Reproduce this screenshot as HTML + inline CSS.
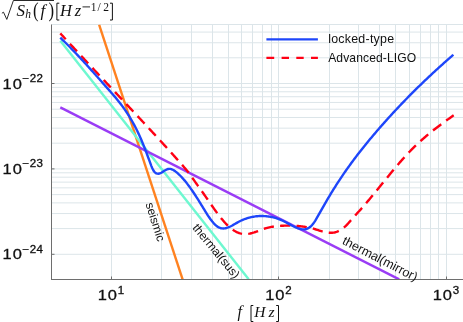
<!DOCTYPE html><html><head><meta charset="utf-8"><style>html,body{margin:0;padding:0;background:#fff;width:463px;height:322px;overflow:hidden}svg{display:block;will-change:transform}text{font-family:"Liberation Sans",sans-serif;fill:#111}.m{font-family:"Liberation Serif",serif;font-style:italic}.r{font-family:"Liberation Serif",serif;font-style:normal}</style></head><body>
<svg width="463" height="322" viewBox="0 0 463 322">
<rect width="463" height="322" fill="#fff"/>
<defs><clipPath id="c"><rect x="51.5" y="24.5" width="411.5" height="255.0"/></clipPath></defs>
<path d="M111.5,24.5V279.5M161.5,24.5V279.5M191.5,24.5V279.5M212.5,24.5V279.5M228.5,24.5V279.5M241.5,24.5V279.5M252.5,24.5V279.5M262.5,24.5V279.5M271.5,24.5V279.5M278.5,24.5V279.5M329.5,24.5V279.5M358.5,24.5V279.5M379.5,24.5V279.5M395.5,24.5V279.5M409.5,24.5V279.5M420.5,24.5V279.5M430.5,24.5V279.5M438.5,24.5V279.5M446.5,24.5V279.5M51.5,254.30H463.0M51.5,228.59H463.0M51.5,213.55H463.0M51.5,202.88H463.0M51.5,194.61H463.0M51.5,187.85H463.0M51.5,182.13H463.0M51.5,177.18H463.0M51.5,172.81H463.0M51.5,168.90H463.0M51.5,143.19H463.0M51.5,128.15H463.0M51.5,117.48H463.0M51.5,109.21H463.0M51.5,102.45H463.0M51.5,96.73H463.0M51.5,91.78H463.0M51.5,87.41H463.0M51.5,83.50H463.0M51.5,57.79H463.0M51.5,42.75H463.0M51.5,32.08H463.0M51.5,24.5H463.0" stroke="#dce5e9" stroke-width="1" fill="none"/>
<g clip-path="url(#c)" fill="none" stroke-width="2.4" stroke-linejoin="round">
<path d="M99.1,24.6L182.6,279.3" stroke="#ff8220"/>
<path d="M60.3,40.7L248.7,279.3" stroke="#6ef8d0"/>
<path d="M60.3,107.4L399.2,279.4" stroke="#9a3cf5"/>
<path d="M60.30,33.36 L61.30,34.45 L62.30,35.53 L63.30,36.62 L64.30,37.71 L65.30,38.79 L66.30,39.88 L67.30,40.96 L68.30,42.04 L69.30,43.12 L70.30,44.20 L71.30,45.28 L72.30,46.36 L73.30,47.44 L74.30,48.52 L75.30,49.59 L76.30,50.67 L77.30,51.75 L78.30,52.82 L79.30,53.90 L80.30,54.97 L81.30,56.04 L82.30,57.12 L83.30,58.19 L84.30,59.26 L85.30,60.33 L86.30,61.40 L87.30,62.47 L88.30,63.54 L89.30,64.61 L90.30,65.68 L91.30,66.75 L92.30,67.81 L93.30,68.88 L94.30,69.95 L95.30,71.02 L96.30,72.08 L97.30,73.15 L98.30,74.22 L99.30,75.28 L100.30,76.35 L101.30,77.41 L102.30,78.48 L103.30,79.54 L104.30,80.61 L105.30,81.67 L106.30,82.74 L107.30,83.81 L108.30,84.87 L109.30,85.94 L110.30,87.00 L111.30,88.07 L112.30,89.13 L113.30,90.20 L114.30,91.26 L115.30,92.33 L116.30,93.39 L117.30,94.46 L118.30,95.52 L119.30,96.59 L120.30,97.65 L121.30,98.72 L122.30,99.79 L123.30,100.85 L124.30,101.92 L125.30,102.99 L126.30,104.06 L127.30,105.13 L128.30,106.19 L129.30,107.26 L130.30,108.33 L131.30,109.40 L132.30,110.47 L133.30,111.54 L134.30,112.61 L135.30,113.69 L136.30,114.76 L137.30,115.83 L138.30,116.90 L139.30,117.98 L140.30,119.05 L141.30,120.13 L142.30,121.20 L143.30,122.28 L144.30,123.36 L145.30,124.44 L146.30,125.52 L147.30,126.59 L148.30,127.67 L149.30,128.76 L150.30,129.84 L151.30,130.92 L152.30,132.00 L153.30,133.09 L154.30,134.17 L155.30,135.26 L156.30,136.35 L157.30,137.44 L158.30,138.52 L159.30,139.61 L160.30,140.71 L161.30,141.80 L162.30,142.89 L163.30,143.99 L164.30,145.08 L165.30,146.18 L166.30,147.28 L167.30,148.37 L168.30,149.47 L169.30,150.58 L170.30,151.68 L171.30,152.78 L172.30,153.89 L173.30,154.99 L174.30,156.10 L175.30,157.21 L176.30,158.33 L177.30,159.44 L178.30,160.57 L179.30,161.70 L180.30,162.83 L181.30,163.98 L182.30,165.13 L183.30,166.29 L184.30,167.46 L185.30,168.64 L186.30,169.85 L187.30,171.08 L188.30,172.35 L189.30,173.65 L190.30,175.01 L191.30,176.40 L192.30,177.82 L193.30,179.25 L194.30,180.67 L195.30,182.08 L196.30,183.49 L197.30,184.88 L198.30,186.28 L199.30,187.67 L200.30,189.06 L201.30,190.46 L202.30,191.87 L203.30,193.28 L204.30,194.71 L205.30,196.14 L206.30,197.58 L207.30,199.03 L208.30,200.48 L209.30,201.93 L210.30,203.38 L211.30,204.82 L212.30,206.26 L213.30,207.68 L214.30,209.09 L215.30,210.49 L216.30,211.87 L217.30,213.22 L218.30,214.56 L219.30,215.87 L220.30,217.14 L221.30,218.39 L222.30,219.61 L223.30,220.79 L224.30,221.93 L225.30,223.03 L226.30,224.08 L227.30,225.09 L228.30,226.05 L229.30,226.96 L230.30,227.81 L231.30,228.62 L232.30,229.37 L233.30,230.07 L234.30,230.72 L235.30,231.31 L236.30,231.84 L237.30,232.32 L238.30,232.75 L239.30,233.11 L240.30,233.42 L241.30,233.67 L242.30,233.86 L243.30,233.98 L244.30,234.06 L245.30,234.07 L246.30,234.04 L247.30,233.95 L248.30,233.83 L249.30,233.66 L250.30,233.46 L251.30,233.22 L252.30,232.96 L253.30,232.66 L254.30,232.35 L255.30,232.01 L256.30,231.67 L257.30,231.30 L258.30,230.94 L259.30,230.56 L260.30,230.19 L261.30,229.81 L262.30,229.45 L263.30,229.09 L264.30,228.75 L265.30,228.42 L266.30,228.11 L267.30,227.83 L268.30,227.57 L269.30,227.33 L270.30,227.11 L271.30,226.91 L272.30,226.72 L273.30,226.56 L274.30,226.41 L275.30,226.28 L276.30,226.16 L277.30,226.06 L278.30,225.97 L279.30,225.89 L280.30,225.83 L281.30,225.77 L282.30,225.73 L283.30,225.70 L284.30,225.67 L285.30,225.65 L286.30,225.63 L287.30,225.63 L288.30,225.62 L289.30,225.63 L290.30,225.64 L291.30,225.66 L292.30,225.68 L293.30,225.72 L294.30,225.76 L295.30,225.81 L296.30,225.87 L297.30,225.94 L298.30,226.02 L299.30,226.11 L300.30,226.21 L301.30,226.32 L302.30,226.44 L303.30,226.58 L304.30,226.73 L305.30,226.88 L306.30,227.06 L307.30,227.24 L308.30,227.44 L309.30,227.66 L310.30,227.89 L311.30,228.13 L312.30,228.39 L313.30,228.66 L314.30,228.96 L315.30,229.26 L316.30,229.57 L317.30,229.89 L318.30,230.22 L319.30,230.54 L320.30,230.85 L321.30,231.15 L322.30,231.45 L323.30,231.72 L324.30,231.97 L325.30,232.20 L326.30,232.39 L327.30,232.56 L328.30,232.69 L329.30,232.77 L330.30,232.82 L331.30,232.81 L332.30,232.75 L333.30,232.64 L334.30,232.46 L335.30,232.23 L336.30,231.94 L337.30,231.59 L338.30,231.17 L339.30,230.68 L340.30,230.13 L341.30,229.51 L342.30,228.83 L343.30,228.07 L344.30,227.23 L345.30,226.33 L346.30,225.34 L347.30,224.30 L348.30,223.22 L349.30,222.10 L350.30,220.97 L351.30,219.83 L352.30,218.71 L353.30,217.59 L354.30,216.48 L355.30,215.37 L356.30,214.27 L357.30,213.16 L358.30,212.06 L359.30,210.95 L360.30,209.83 L361.30,208.71 L362.30,207.58 L363.30,206.44 L364.30,205.30 L365.30,204.14 L366.30,202.97 L367.30,201.80 L368.30,200.62 L369.30,199.43 L370.30,198.24 L371.30,197.03 L372.30,195.83 L373.30,194.62 L374.30,193.40 L375.30,192.18 L376.30,190.96 L377.30,189.73 L378.30,188.51 L379.30,187.28 L380.30,186.04 L381.30,184.81 L382.30,183.58 L383.30,182.35 L384.30,181.11 L385.30,179.88 L386.30,178.65 L387.30,177.43 L388.30,176.20 L389.30,174.98 L390.30,173.76 L391.30,172.55 L392.30,171.34 L393.30,170.14 L394.30,168.94 L395.30,167.75 L396.30,166.56 L397.30,165.38 L398.30,164.21 L399.30,163.05 L400.30,161.90 L401.30,160.75 L402.30,159.62 L403.30,158.50 L404.30,157.38 L405.30,156.28 L406.30,155.19 L407.30,154.11 L408.30,153.05 L409.30,152.00 L410.30,150.96 L411.30,149.93 L412.30,148.92 L413.30,147.93 L414.30,146.94 L415.30,145.97 L416.30,145.01 L417.30,144.06 L418.30,143.13 L419.30,142.20 L420.30,141.29 L421.30,140.38 L422.30,139.49 L423.30,138.61 L424.30,137.74 L425.30,136.88 L426.30,136.03 L427.30,135.18 L428.30,134.35 L429.30,133.52 L430.30,132.71 L431.30,131.90 L432.30,131.10 L433.30,130.30 L434.30,129.52 L435.30,128.74 L436.30,127.97 L437.30,127.20 L438.30,126.44 L439.30,125.69 L440.30,124.94 L441.30,124.19 L442.30,123.46 L443.30,122.72 L444.30,121.99 L445.30,121.27 L446.30,120.55 L447.30,119.83 L448.30,119.12 L449.30,118.41 L450.30,117.70 L451.30,117.00 L452.30,116.29 L453.30,115.59 L453.70,115.31" stroke="#ff0014" stroke-dasharray="10.3 6.2" stroke-dashoffset="2.3"/>
<path d="M60.30,37.61 L61.30,38.57 L62.30,39.54 L63.30,40.52 L64.30,41.50 L65.30,42.49 L66.30,43.48 L67.30,44.48 L68.30,45.49 L69.30,46.51 L70.30,47.53 L71.30,48.56 L72.30,49.59 L73.30,50.63 L74.30,51.67 L75.30,52.72 L76.30,53.77 L77.30,54.83 L78.30,55.89 L79.30,56.96 L80.30,58.03 L81.30,59.11 L82.30,60.19 L83.30,61.28 L84.30,62.36 L85.30,63.46 L86.30,64.55 L87.30,65.65 L88.30,66.76 L89.30,67.86 L90.30,68.97 L91.30,70.08 L92.30,71.20 L93.30,72.31 L94.30,73.43 L95.30,74.55 L96.30,75.68 L97.30,76.80 L98.30,77.93 L99.30,79.06 L100.30,80.18 L101.30,81.32 L102.30,82.45 L103.30,83.58 L104.30,84.71 L105.30,85.85 L106.30,86.98 L107.30,88.12 L108.30,89.25 L109.30,90.39 L110.30,91.53 L111.30,92.67 L112.30,93.81 L113.30,94.97 L114.30,96.14 L115.30,97.32 L116.30,98.51 L117.30,99.73 L118.30,100.96 L119.30,102.21 L120.30,103.49 L121.30,104.80 L122.30,106.13 L123.30,107.49 L124.30,108.89 L125.30,110.32 L126.30,111.79 L127.30,113.30 L128.30,114.85 L129.30,116.44 L130.30,118.08 L131.30,119.77 L132.30,121.51 L133.30,123.30 L134.30,125.15 L135.30,127.05 L136.30,129.02 L137.30,131.04 L138.30,133.13 L139.30,135.28 L140.30,137.51 L141.30,139.80 L142.30,142.17 L143.30,144.61 L144.30,147.12 L145.30,149.70 L146.30,152.33 L147.30,155.00 L148.30,157.72 L149.30,160.45 L150.30,163.20 L151.30,165.87 L152.30,168.29 L153.30,170.27 L154.30,171.74 L155.30,172.74 L156.30,173.36 L157.30,173.67 L158.30,173.71 L159.30,173.54 L160.30,173.19 L161.30,172.71 L162.30,172.13 L163.30,171.50 L164.30,170.85 L165.30,170.23 L166.30,169.68 L167.30,169.24 L168.30,168.94 L169.30,168.83 L170.30,168.90 L171.30,169.13 L172.30,169.51 L173.30,170.01 L174.30,170.63 L175.30,171.33 L176.30,172.11 L177.30,172.94 L178.30,173.83 L179.30,174.76 L180.30,175.75 L181.30,176.78 L182.30,177.86 L183.30,178.98 L184.30,180.14 L185.30,181.34 L186.30,182.59 L187.30,183.87 L188.30,185.18 L189.30,186.53 L190.30,187.91 L191.30,189.33 L192.30,190.77 L193.30,192.24 L194.30,193.74 L195.30,195.26 L196.30,196.80 L197.30,198.37 L198.30,199.95 L199.30,201.56 L200.30,203.18 L201.30,204.81 L202.30,206.46 L203.30,208.10 L204.30,209.74 L205.30,211.36 L206.30,212.96 L207.30,214.53 L208.30,216.05 L209.30,217.52 L210.30,218.94 L211.30,220.28 L212.30,221.56 L213.30,222.74 L214.30,223.84 L215.30,224.83 L216.30,225.71 L217.30,226.48 L218.30,227.11 L219.30,227.62 L220.30,227.99 L221.30,228.25 L222.30,228.39 L223.30,228.43 L224.30,228.38 L225.30,228.23 L226.30,228.01 L227.30,227.72 L228.30,227.36 L229.30,226.95 L230.30,226.48 L231.30,225.98 L232.30,225.45 L233.30,224.89 L234.30,224.32 L235.30,223.74 L236.30,223.16 L237.30,222.59 L238.30,222.04 L239.30,221.51 L240.30,221.00 L241.30,220.53 L242.30,220.07 L243.30,219.65 L244.30,219.25 L245.30,218.87 L246.30,218.52 L247.30,218.19 L248.30,217.89 L249.30,217.61 L250.30,217.36 L251.30,217.13 L252.30,216.92 L253.30,216.73 L254.30,216.57 L255.30,216.43 L256.30,216.31 L257.30,216.21 L258.30,216.13 L259.30,216.07 L260.30,216.04 L261.30,216.02 L262.30,216.02 L263.30,216.05 L264.30,216.09 L265.30,216.15 L266.30,216.23 L267.30,216.33 L268.30,216.46 L269.30,216.60 L270.30,216.76 L271.30,216.95 L272.30,217.15 L273.30,217.38 L274.30,217.64 L275.30,217.91 L276.30,218.21 L277.30,218.54 L278.30,218.88 L279.30,219.26 L280.30,219.65 L281.30,220.08 L282.30,220.53 L283.30,221.00 L284.30,221.50 L285.30,222.01 L286.30,222.53 L287.30,223.07 L288.30,223.61 L289.30,224.15 L290.30,224.68 L291.30,225.21 L292.30,225.73 L293.30,226.23 L294.30,226.72 L295.30,227.18 L296.30,227.61 L297.30,228.01 L298.30,228.38 L299.30,228.70 L300.30,228.98 L301.30,229.19 L302.30,229.34 L303.30,229.40 L304.30,229.38 L305.30,229.26 L306.30,229.02 L307.30,228.67 L308.30,228.19 L309.30,227.57 L310.30,226.80 L311.30,225.87 L312.30,224.78 L313.30,223.51 L314.30,222.10 L315.30,220.57 L316.30,218.93 L317.30,217.22 L318.30,215.46 L319.30,213.67 L320.30,211.87 L321.30,210.09 L322.30,208.31 L323.30,206.56 L324.30,204.81 L325.30,203.08 L326.30,201.36 L327.30,199.65 L328.30,197.96 L329.30,196.28 L330.30,194.62 L331.30,192.98 L332.30,191.35 L333.30,189.73 L334.30,188.13 L335.30,186.55 L336.30,184.98 L337.30,183.42 L338.30,181.88 L339.30,180.36 L340.30,178.85 L341.30,177.35 L342.30,175.87 L343.30,174.40 L344.30,172.94 L345.30,171.49 L346.30,170.06 L347.30,168.64 L348.30,167.23 L349.30,165.84 L350.30,164.45 L351.30,163.08 L352.30,161.72 L353.30,160.37 L354.30,159.03 L355.30,157.70 L356.30,156.38 L357.30,155.07 L358.30,153.77 L359.30,152.48 L360.30,151.20 L361.30,149.93 L362.30,148.66 L363.30,147.41 L364.30,146.16 L365.30,144.92 L366.30,143.69 L367.30,142.47 L368.30,141.25 L369.30,140.04 L370.30,138.84 L371.30,137.65 L372.30,136.46 L373.30,135.27 L374.30,134.10 L375.30,132.92 L376.30,131.76 L377.30,130.59 L378.30,129.44 L379.30,128.29 L380.30,127.14 L381.30,126.00 L382.30,124.86 L383.30,123.73 L384.30,122.60 L385.30,121.48 L386.30,120.36 L387.30,119.25 L388.30,118.14 L389.30,117.04 L390.30,115.94 L391.30,114.85 L392.30,113.76 L393.30,112.68 L394.30,111.60 L395.30,110.52 L396.30,109.45 L397.30,108.39 L398.30,107.33 L399.30,106.27 L400.30,105.22 L401.30,104.17 L402.30,103.12 L403.30,102.08 L404.30,101.05 L405.30,100.02 L406.30,98.99 L407.30,97.97 L408.30,96.95 L409.30,95.93 L410.30,94.92 L411.30,93.92 L412.30,92.91 L413.30,91.91 L414.30,90.92 L415.30,89.93 L416.30,88.94 L417.30,87.96 L418.30,86.98 L419.30,86.00 L420.30,85.03 L421.30,84.06 L422.30,83.10 L423.30,82.14 L424.30,81.18 L425.30,80.22 L426.30,79.27 L427.30,78.33 L428.30,77.38 L429.30,76.44 L430.30,75.51 L431.30,74.57 L432.30,73.64 L433.30,72.72 L434.30,71.79 L435.30,70.87 L436.30,69.96 L437.30,69.04 L438.30,68.13 L439.30,67.23 L440.30,66.32 L441.30,65.42 L442.30,64.52 L443.30,63.63 L444.30,62.73 L445.30,61.84 L446.30,60.96 L447.30,60.07 L448.30,59.19 L449.30,58.31 L450.30,57.44 L451.30,56.57 L452.30,55.69 L453.30,54.83 L453.40,54.74" stroke="#1e46fa"/>
</g>
<path d="M51.5,24.5V280.0M51.0,279.5H463.0" stroke="#6e6e6e" stroke-width="1" fill="none"/>
<path d="M111.5,279.5v-3M278.5,279.5v-3M446.5,279.5v-3M51.5,254.30h3M51.5,168.90h3M51.5,83.50h3" stroke="#6e6e6e" stroke-width="1" fill="none"/>
<path d="M266.4,39.4H317.9" stroke="#1e46fa" stroke-width="2.2"/>
<path d="M266.4,57.9H317.9" stroke="#ff0014" stroke-width="2.2" stroke-dasharray="7.8 7.4 7.4 7.3 7.4 7.3 6.9 10"/>
<text x="328.2" y="43.2" font-size="12.4" letter-spacing="0.25">locked-type</text>
<text x="328.2" y="62" font-size="12.1" letter-spacing="0.1">Advanced-LIGO</text>
<text transform="translate(111.1,300.1) scale(1.12,1)" text-anchor="middle" font-size="14.7" letter-spacing="0.9" stroke="#111" stroke-width="0.3">10<tspan font-size="10.3" dy="-6.6" dx="-0.3" letter-spacing="0.4">1</tspan></text>
<text transform="translate(278.6,300.1) scale(1.12,1)" text-anchor="middle" font-size="14.7" letter-spacing="0.9" stroke="#111" stroke-width="0.3">10<tspan font-size="10.3" dy="-6.6" dx="-0.3" letter-spacing="0.4">2</tspan></text>
<text transform="translate(446.1,300.1) scale(1.12,1)" text-anchor="middle" font-size="14.7" letter-spacing="0.9" stroke="#111" stroke-width="0.3">10<tspan font-size="10.3" dy="-6.6" dx="-0.3" letter-spacing="0.4">3</tspan></text>
<text transform="translate(2.6,259.4) scale(1.12,1)" font-size="14.7" letter-spacing="0.9" stroke="#111" stroke-width="0.3">10<tspan font-size="10.3" dy="-6.6" dx="-0.3" letter-spacing="0.4">−24</tspan></text>
<text transform="translate(2.6,174.0) scale(1.12,1)" font-size="14.7" letter-spacing="0.9" stroke="#111" stroke-width="0.3">10<tspan font-size="10.3" dy="-6.6" dx="-0.3" letter-spacing="0.4">−23</tspan></text>
<text transform="translate(2.6,88.6) scale(1.12,1)" font-size="14.7" letter-spacing="0.9" stroke="#111" stroke-width="0.3">10<tspan font-size="10.3" dy="-6.6" dx="-0.3" letter-spacing="0.4">−22</tspan></text>
<text font-size="12" transform="translate(145.5,204) rotate(72.5)" >seismic</text>
<text font-size="12" transform="translate(192,228) rotate(50.5)" >thermal(sus)</text>
<text font-size="12.5" transform="translate(341.5,243.5) rotate(27.3)" >thermal(mirror)</text>
<text class="m" x="237.5" y="316.8" font-size="16.0">f</text>
<path d="M253.3,305.5H251.0V321.5H253.3" stroke="#111" stroke-width="1" fill="none"/>
<text class="m" x="254.3" y="316.8" font-size="15.5">H</text>
<text class="m" x="268.6" y="316.8" font-size="15.5">z</text>
<path d="M276.2,305.5H278.5V321.5H276.2" stroke="#111" stroke-width="1" fill="none"/>
<path d="M1.9,13.2l1.6,-1l3.3,7.2l6.6,-18.9H54" stroke="#111" stroke-width="0.9" fill="none"/>
<text class="m" x="16.5" y="16.0" font-size="17.0">S</text>
<text class="m" x="25.3" y="17.6" font-size="11.5">h</text>
<text class="r" font-size="21" transform="translate(33.0,16.6) scale(0.8,1)">(</text>
<text class="m" x="40.5" y="16.0" font-size="17.0">f</text>
<text class="r" font-size="21" transform="translate(48.6,16.6) scale(0.8,1)">)</text>
<path d="M59.3,3.2H56.9V20.0H59.3" stroke="#111" stroke-width="1" fill="none"/>
<text class="m" x="60.0" y="16.2" font-size="16.5">H</text>
<text class="m" x="74.8" y="16.2" font-size="16.5">z</text>
<path d="M82.5,6.9H90" stroke="#111" stroke-width="0.9"/>
<text class="r" x="90.7" y="10.6" font-size="11.5">1</text>
<text class="r" x="97.5" y="10.6" font-size="11.5">/</text>
<text class="r" x="103.2" y="10.6" font-size="11.5">2</text>
<path d="M110.0,3.2H112.4V20.0H110.0" stroke="#111" stroke-width="1" fill="none"/>
</svg></body></html>
